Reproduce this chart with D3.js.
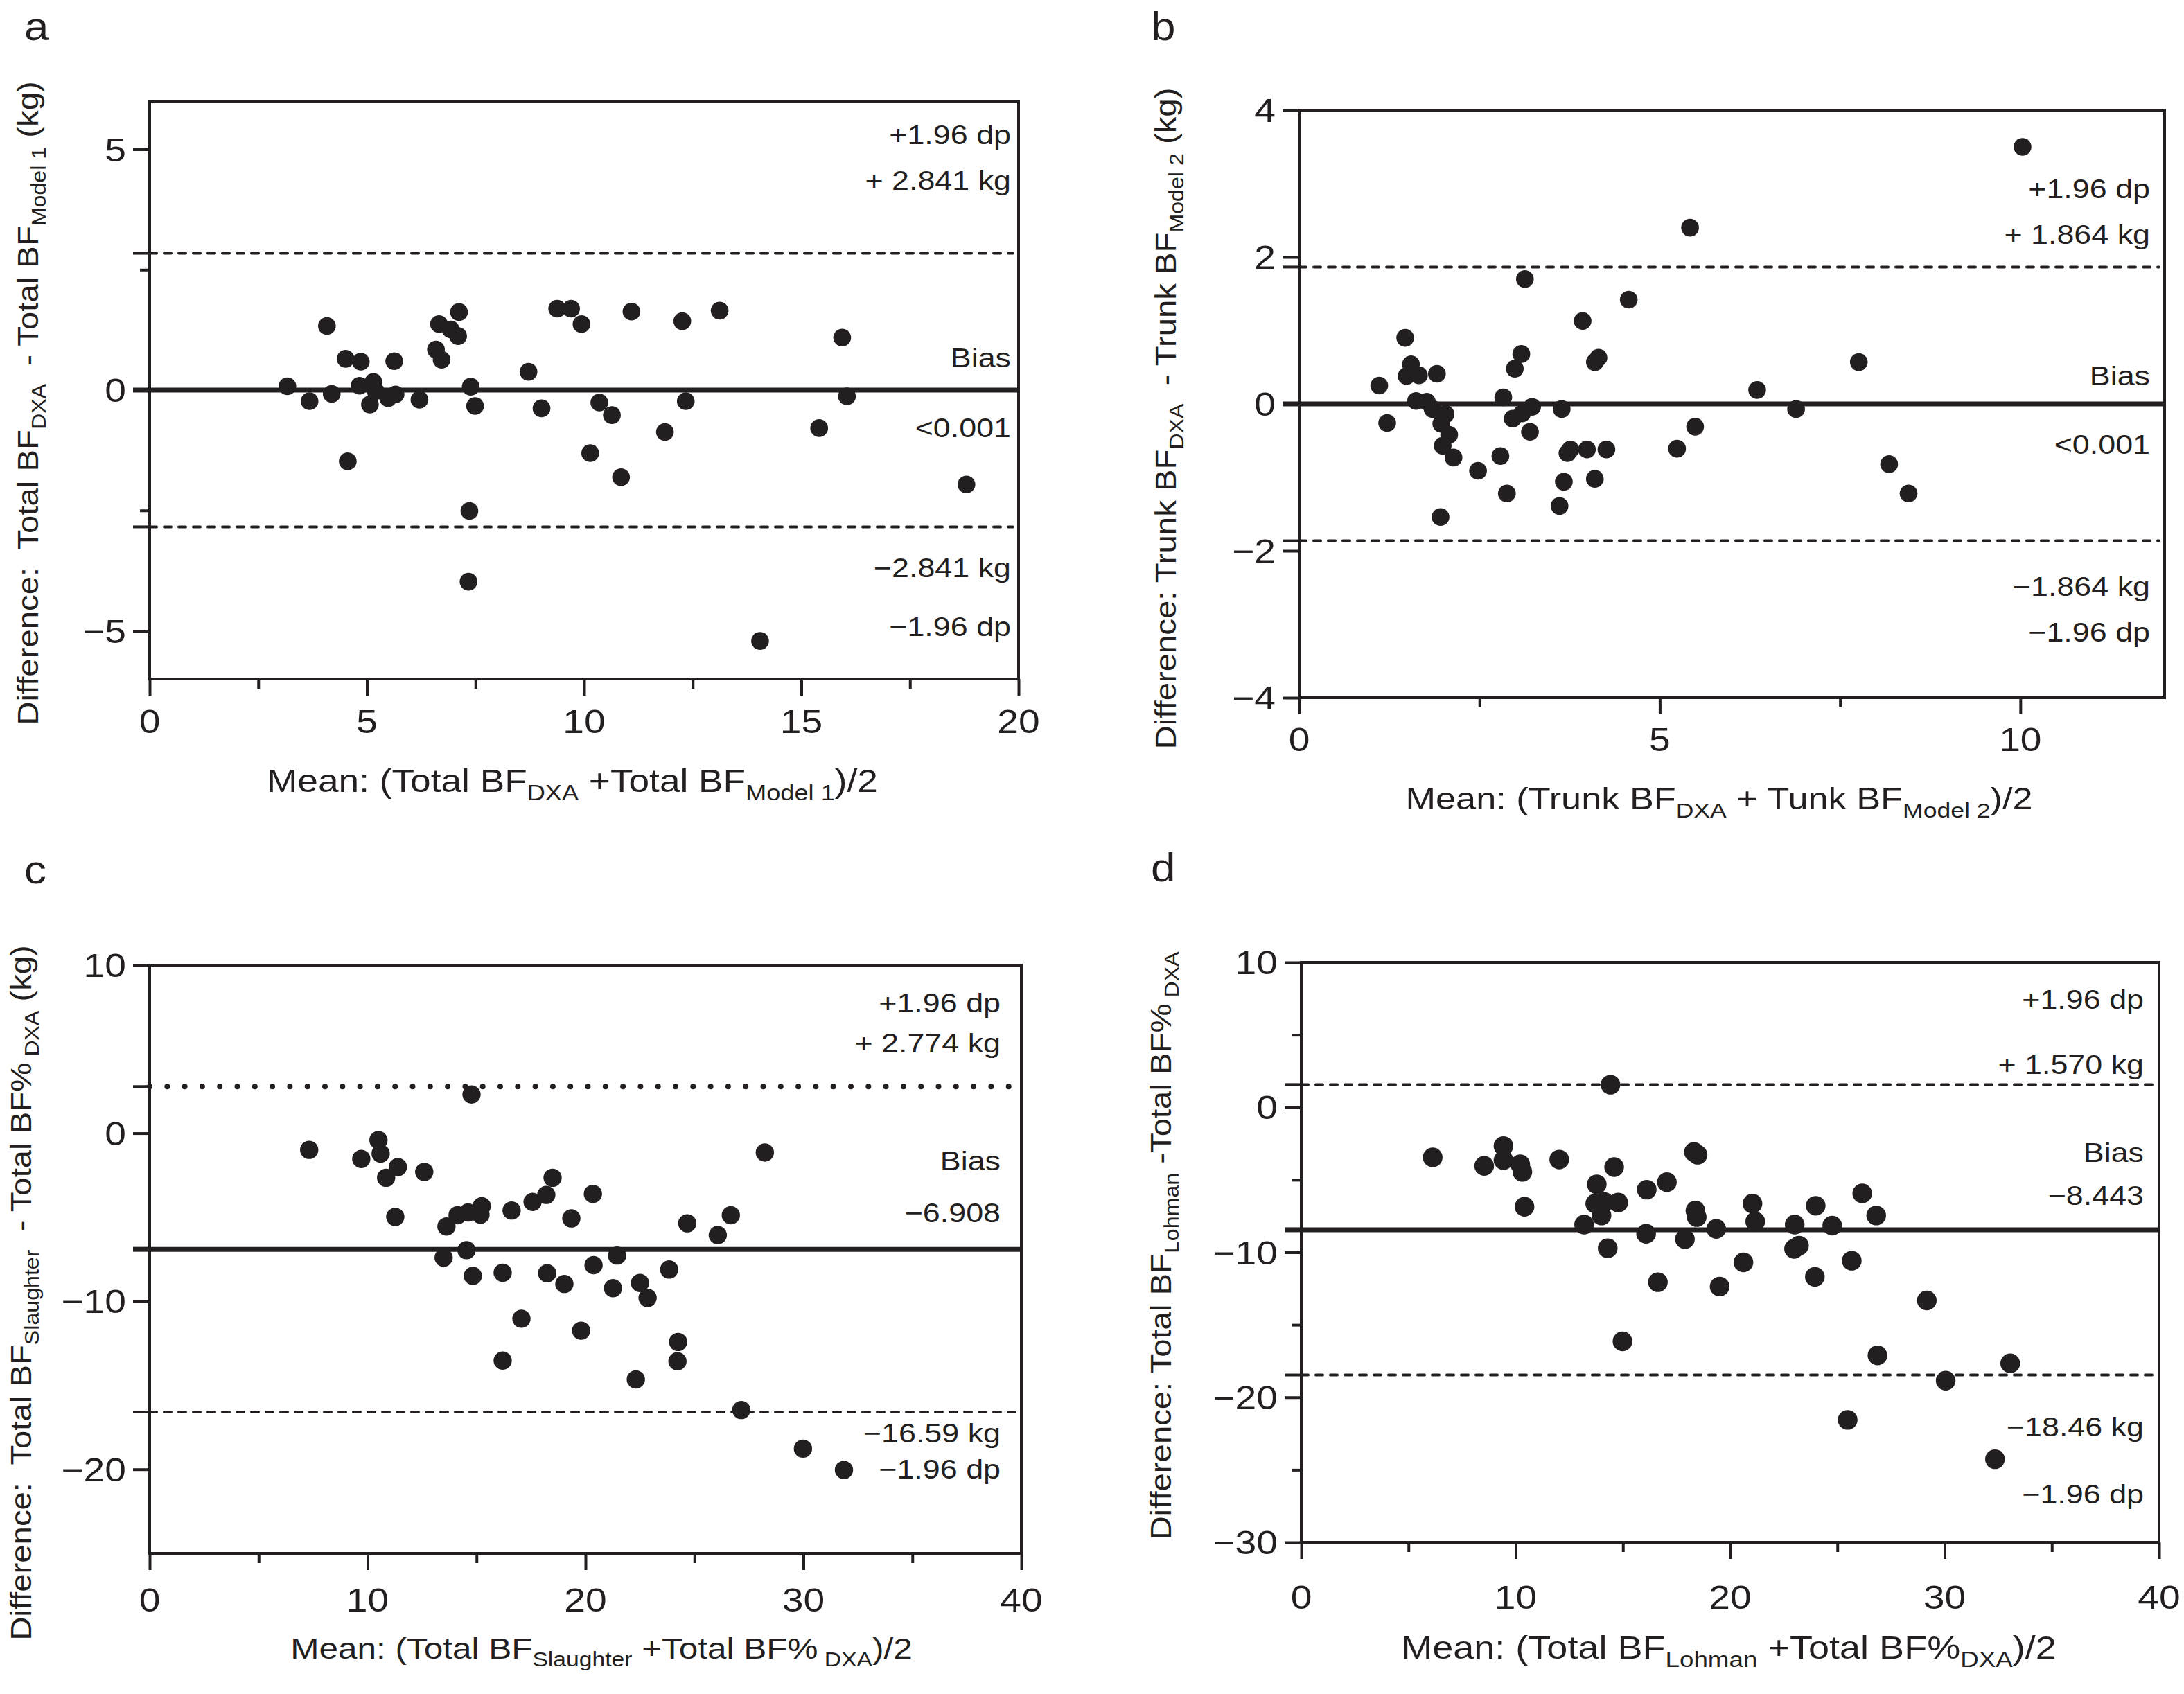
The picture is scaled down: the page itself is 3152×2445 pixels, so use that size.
<!DOCTYPE html>
<html>
<head>
<meta charset="utf-8">
<script src="https://cdn.jsdelivr.net/npm/d3@7"></script>
<style>html,body{margin:0;padding:0;background:#fff;}</style>
</head>
<body>
<svg id="chart"></svg>
<script>
// ---------------- DATA ----------------
// Panel a: Total BF, Model 1
const aMean = [3.17,3.68,4.08,4.19,4.51,4.56,4.86,4.83,5.15,5.07,5.20,5.49,5.63,5.66,6.21,6.59,6.72,6.66,6.93,7.10,7.12,7.39,7.49,7.36,7.34,8.72,9.02,9.38,9.70,9.94,10.14,10.35,10.64,10.85,11.09,11.86,12.26,12.34,13.12,14.05,15.41,15.94,16.05,18.80];
const aDiff = [0.08,-0.23,1.33,-0.08,0.65,-1.48,0.59,0.09,0.17,-0.30,-0.02,-0.17,0.60,-0.09,-0.20,0.84,0.63,1.37,1.26,1.12,1.62,0.07,-0.33,-2.51,-3.98,0.38,-0.38,1.69,1.69,1.37,-1.31,-0.26,-0.52,-1.81,1.63,-0.87,1.43,-0.23,1.65,-5.21,-0.79,1.09,-0.13,-1.96];
const aLimits = [2.841, 0, -2.841];
const aNotes = ["+1.96 dp", "+ 2.841 kg", "Bias", "<0.001", "\u22122.841 kg", "\u22121.96 dp"];

// Panel b: Trunk BF, Model 2
const bMean = [1.11,1.22,1.47,1.49,1.55,1.66,1.62,1.77,1.91,1.85,2.03,1.97,2.08,1.99,2.14,1.96,2.48,2.79,2.83,2.88,2.96,2.99,3.08,3.09,3.13,3.20,3.23,3.61,3.64,3.67,3.72,3.76,3.93,3.99,4.10,4.15,4.10,4.26,4.57,5.24,5.42,5.49,6.35,6.89,7.76,8.18,8.45,10.03];
const bDiff = [0.25,-0.26,0.90,0.38,0.54,0.39,0.04,0.03,0.41,-0.07,-0.14,-0.27,-0.42,-0.57,-0.73,-1.54,-0.91,-0.71,0.09,-1.22,-0.20,0.48,0.68,-0.13,1.70,-0.38,-0.04,-1.39,-0.07,-1.06,-0.67,-0.62,1.13,-0.62,0.57,0.63,-1.02,-0.62,1.42,-0.61,2.40,-0.31,0.19,-0.07,0.57,-0.82,-1.22,3.50];
const bLimits = [1.864, 0, -1.864];
const bNotes = ["+1.96 dp", "+ 1.864 kg", "Bias", "<0.001", "\u22121.864 kg", "\u22121.96 dp"];

// Panel c: Total BF Slaughter
const cMean = [7.32,9.71,10.50,10.60,10.85,11.39,11.27,12.60,13.62,13.49,14.13,14.61,14.54,14.77,14.83,15.18,15.24,16.61,16.20,16.20,17.06,17.57,18.20,18.49,18.24,19.03,19.35,19.80,20.34,20.37,21.45,21.26,22.31,22.50,22.85,23.84,24.22,24.25,24.67,26.07,26.67,27.15,28.23,29.98,31.86];
const cDiff = [-0.99,-1.53,-0.41,-1.21,-2.65,-2.01,-4.98,-2.30,-5.55,-7.40,-4.88,-4.72,-6.96,2.30,-8.49,-4.85,-4.34,-4.60,-8.30,-13.53,-11.04,-4.09,-3.67,-2.65,-8.33,-8.97,-5.07,-11.75,-3.61,-7.85,-7.28,-9.22,-14.65,-8.91,-9.80,-8.11,-13.57,-12.42,-5.36,-6.06,-4.88,-16.47,-1.15,-18.77,-20.04];
const cLimits = [2.774, -6.908, -16.59];
const cNotes = ["+1.96 dp", "+ 2.774 kg", "Bias", "\u22126.908", "\u221216.59 kg", "\u22121.96 dp"];

// Panel d: Total BF Lohman
const dMean = [6.13,8.53,9.43,9.43,10.21,10.31,10.41,12.03,13.19,13.78,13.71,14.13,14.00,14.29,14.42,14.59,14.78,14.98,16.08,16.11,16.63,17.05,17.89,18.31,18.48,18.38,18.44,19.35,19.51,20.62,21.04,21.17,22.98,23.01,23.21,23.95,23.99,24.76,25.67,25.48,26.16,26.81,26.87,29.17,30.05,32.35,33.06];
const dDiff = [-3.45,-4.04,-2.67,-3.64,-3.93,-4.45,-6.86,-3.60,-8.09,-5.31,-6.64,-6.53,-7.46,-9.72,1.56,-4.12,-6.57,-16.14,-8.72,-5.68,-12.06,-5.16,-9.09,-3.08,-3.27,-7.12,-7.57,-8.39,-12.36,-10.69,-6.64,-7.87,-9.76,-8.09,-9.54,-11.69,-6.79,-8.16,-10.58,-21.56,-5.94,-7.46,-17.11,-13.32,-18.85,-24.27,-17.66];
const dLimits = [1.570, -8.443, -18.46];
const dNotes = ["+1.96 dp", "+ 1.570 kg", "Bias", "\u22128.443", "\u221218.46 kg", "\u22121.96 dp"];

// Axis ticks
const aXMajor = [0,5,10,15,20], aXMinor = [2.5,7.5,12.5,17.5], aYMajor = [-5,0,5], aYMinor = [-2.5,2.5];
const bXMajor = [0,5,10], bXMinor = [2.5,7.5], bYMajor = [-4,-2,0,2,4], bYMinor = [];
const cXMajor = [0,10,20,30,40], cXMinor = [5,15,25,35], cYMajor = [-20,-10,0,10], cYMinor = [];
const dXMajor = [0,10,20,30,40], dXMinor = [5,15,25,35], dYMajor = [-30,-20,-10,0,10], dYMinor = [-25,-15,-5,5];

// Titles (string parts; arrays = subscript)
const aXTitle = ["Mean: (Total BF", ["DXA"], " +Total BF", ["Model 1"], ")/2"];
const aYTitle = ["Difference:  Total BF", ["DXA"], "  - Total BF", ["Model 1"], " (kg)"];
const bXTitle = ["Mean: (Trunk BF", ["DXA"], " + Tunk BF", ["Model 2"], ")/2"];
const bYTitle = ["Difference: Trunk BF", ["DXA"], "  - Trunk BF", ["Model 2"], " (kg)"];
const cXTitle = ["Mean: (Total BF", ["Slaughter"], " +Total BF%", [" DXA"], ")/2"];
const cYTitle = ["Difference:  Total BF", ["Slaughter"], "  - Total BF%", [" DXA"], " (kg)"];
const dXTitle = ["Mean: (Total BF", ["Lohman"], " +Total BF%", ["DXA"], ")/2"];
const dYTitle = ["Difference: Total BF", ["Lohman"], " -Total BF%", [" DXA"]];

// ---------------- LAYOUT ----------------
const W = 3152, H = 2445;
const INK = "#231f20";
const FONT = '"Liberation Sans", Arial, Helvetica, sans-serif';
const TICK_FS = 48, YTITLE_FS = 43, NOTE_FS = 38, LETTER_FS = 58;
const SX = 1.15;

const panels = [
  {letter:"a", mean:aMean, diff:aDiff, limits:aLimits, notes:aNotes, styles:["dash","solid","dash"],
   xDom:[0,20], yDom:[-6,6], xMajor:aXMajor, xMinor:aXMinor, yMajor:aYMajor, yMinor:aYMinor,
   xTitle:aXTitle, yTitle:aYTitle, xTitleFs:45.5,
   box:{x0:216,x1:1470,y0:146,y1:980}, r:12.8,
   noteX:1459, noteY:[208,274,530,631,833,918],
   xTickBase:1058, letterPos:[35,58], xTitlePos:[826,1143], yTitlePos:[55,582]},
  {letter:"b", mean:bMean, diff:bDiff, limits:bLimits, notes:bNotes, styles:["dash","solid","dash"],
   xDom:[0,12], yDom:[-4,4], xMajor:bXMajor, xMinor:bXMinor, yMajor:bYMajor, yMinor:bYMinor,
   xTitle:bXTitle, yTitle:bYTitle, xTitleFs:44.7,
   box:{x0:1875,x1:3124,y0:159,y1:1007}, r:12.8,
   noteX:3103, noteY:[286,352,556,655,860,926],
   xTickBase:1084, letterPos:[1661,58], xTitlePos:[2481,1168], yTitlePos:[1697,604]},
  {letter:"c", mean:cMean, diff:cDiff, limits:cLimits, notes:cNotes, styles:["dot","solid","dash"],
   xDom:[0,40], yDom:[-25,10], xMajor:cXMajor, xMinor:cXMinor, yMajor:cYMajor, yMinor:cYMinor,
   xTitle:cXTitle, yTitle:cYTitle, xTitleFs:42.3,
   box:{x0:216,x1:1474,y0:1393,y1:2242}, r:13.2,
   noteX:1444, noteY:[1461,1519,1689,1764,2082,2134],
   xTickBase:2326, letterPos:[35,1275], xTitlePos:[868,2394], yTitlePos:[45,1866]},
  {letter:"d", mean:dMean, diff:dDiff, limits:dLimits, notes:dNotes, styles:["dash","solid","dash"],
   xDom:[0,40], yDom:[-30,10], xMajor:dXMajor, xMinor:dXMinor, yMajor:dYMajor, yMinor:dYMinor,
   xTitle:dXTitle, yTitle:dYTitle, xTitleFs:46.2,
   box:{x0:1878,x1:3116,y0:1389,y1:2226}, r:14.2,
   noteX:3094, noteY:[1456,1550,1677,1739,2073,2170],
   xTickBase:2322, letterPos:[1661,1272], xTitlePos:[2495,2394], yTitlePos:[1690,1798]}
];

const svg = d3.select("#chart").attr("width", W).attr("height", H);
svg.append("rect").attr("width", W).attr("height", H).attr("fill", "#fff");

function addText(g, x, y, parts, o) {
  const t = g.append("text")
    .attr("transform", `translate(${x},${y})` + (o.rotate ? " rotate(-90)" : "") + ` scale(${o.sx || 1},1)`)
    .attr("text-anchor", o.anchor || "start")
    .attr("font-family", FONT)
    .attr("font-size", o.size)
    .attr("fill", INK)
    .style("white-space", "pre");
  if (typeof parts === "string") { t.text(parts); return t; }
  const off = o.size * 0.26, subFs = o.size * 0.68;
  let shifted = false;
  parts.forEach(p => {
    const isSub = Array.isArray(p);
    const ts = t.append("tspan").text(isSub ? p[0] : p);
    if (isSub) { ts.attr("font-size", subFs).attr("dy", off); shifted = true; }
    else if (shifted) { ts.attr("dy", -off); shifted = false; }
  });
  return t;
}

panels.forEach(p => {
  const g = svg.append("g");
  const b = p.box;
  const x = d3.scaleLinear().domain(p.xDom).range([b.x0, b.x1]);
  const y = d3.scaleLinear().domain(p.yDom).range([b.y1, b.y0]);

  // ticks via d3 axes (lines only)
  const axStyle = sel => {
    sel.select(".domain").remove();
    sel.selectAll("line").attr("stroke", INK).attr("stroke-width", 4);
    sel.selectAll("text").remove();
  };
  g.append("g").attr("transform", `translate(0,${b.y1})`)
    .call(d3.axisBottom(x).tickValues(p.xMajor).tickSize(24).tickFormat(""))
    .call(axStyle);
  g.append("g").attr("transform", `translate(0,${b.y1})`)
    .call(d3.axisBottom(x).tickValues(p.xMinor).tickSize(14).tickFormat(""))
    .call(axStyle);
  g.append("g").attr("transform", `translate(${b.x0},0)`)
    .call(d3.axisLeft(y).tickValues(p.yMajor).tickSize(24).tickFormat(""))
    .call(axStyle);
  g.append("g").attr("transform", `translate(${b.x0},0)`)
    .call(d3.axisLeft(y).tickValues(p.yMinor).tickSize(14).tickFormat(""))
    .call(axStyle);

  // tick labels
  const fmt = v => (v < 0 ? "\u2212" + Math.abs(v) : String(v));
  p.xMajor.forEach(v => addText(g, x(v), p.xTickBase, fmt(v), {size:TICK_FS, anchor:"middle", sx:SX}));
  p.yMajor.forEach(v => addText(g, b.x0 - 34, y(v) + 17, fmt(v), {size:TICK_FS, anchor:"end", sx:SX}));

  // limit / bias lines
  p.limits.forEach((v, i) => {
    const st = p.styles[i];
    const yy = y(v);
    g.append("line").attr("x1", b.x0 - 24).attr("x2", b.x0).attr("y1", yy).attr("y2", yy)
      .attr("stroke", INK).attr("stroke-width", st === "solid" ? 7 : 4);
    const ln = g.append("line").attr("x1", b.x0).attr("x2", b.x1 - (st === "solid" ? 0 : 8))
      .attr("y1", yy).attr("y2", yy).attr("stroke", INK);
    if (st === "solid") ln.attr("stroke-width", 7);
    else if (st === "dash") ln.attr("stroke-width", 4).attr("stroke-dasharray", "10,11").attr("stroke-linecap", "round");
    else ln.attr("stroke-width", 8).attr("stroke-dasharray", "0,25.3").attr("stroke-linecap", "round");
  });

  // box
  g.append("rect").attr("x", b.x0).attr("y", b.y0).attr("width", b.x1 - b.x0).attr("height", b.y1 - b.y0)
    .attr("fill", "none").attr("stroke", INK).attr("stroke-width", 4);

  // points
  g.append("g").selectAll("circle").data(p.mean.map((m, i) => [m, p.diff[i]]))
    .join("circle").attr("cx", d => x(d[0])).attr("cy", d => y(d[1])).attr("r", p.r).attr("fill", INK);

  // notes
  p.notes.forEach((s, i) => addText(g, p.noteX, p.noteY[i], s, {size:NOTE_FS, anchor:"end", sx:1.18}));

  // titles
  addText(g, p.xTitlePos[0], p.xTitlePos[1], p.xTitle, {size:p.xTitleFs, anchor:"middle", sx:1.17});
  addText(g, p.yTitlePos[0], p.yTitlePos[1], p.yTitle, {size:YTITLE_FS, anchor:"middle", sx:1.10, rotate:true});
  addText(g, p.letterPos[0], p.letterPos[1], p.letter, {size:LETTER_FS, anchor:"start", sx:1.1});
});
</script>
</body>
</html>
